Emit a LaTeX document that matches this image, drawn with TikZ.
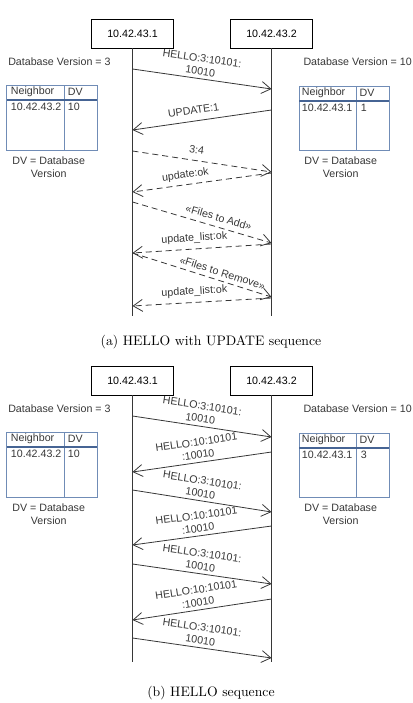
\documentclass[tikz,border=0pt]{standalone}
\usepackage{fontspec}
\newfontfamily\uifont{Liberation Sans}
\usetikzlibrary{positioning,arrows.meta}
\definecolor{ink}{RGB}{55,55,55}
\definecolor{tblline}{RGB}{112,140,182}
\definecolor{tblhead}{RGB}{70,100,148}

\begin{document}
\begin{tikzpicture}[
  x=0.75pt, y=-0.75pt,
  font=\uifont\fontsize{8}{9.6}\selectfont, text=ink,
  host/.style={draw=black, line width=0.6pt, minimum width=61.5pt, minimum height=21.75pt, inner sep=0pt, text=black},
  life/.style={draw=ink, line width=0.6pt},
  msg/.style={draw=ink, line width=0.6pt, -{Straight Barb[length=7pt,width=9pt]}},
  reply/.style={msg, dash pattern=on 4.5pt off 3pt},
  lbl/.style={sloped, above=#1, align=center, inner sep=1pt},
  lbl/.default=1.5pt,
  txt/.style={inner sep=0pt, anchor=west},
  tbl/.style={draw=tblline, line width=0.6pt},
  tblrule/.style={draw=tblhead, line width=1.4pt},
  caption/.style={font=\rmfamily\fontsize{10.3}{12}\selectfont, text=black}
]
\useasboundingbox (0,0) rectangle (412,703);

% ---- upper sequence: HELLO followed by UPDATE
\node[host] (h1a) at (132.5,33.5) {10.42.43.1};
\node[host] (h2a) at (271.5,33.5) {10.42.43.2};
\draw[life] (h1a.south) -- (h1a |- 0,316);
\draw[life] (h2a.south) -- (h2a |- 0,316);

\node[txt] (dbv1a) at (8,62) {Database Version = 3};
\node[txt, anchor=east] (dbv2a) at (412,62) {Database Version = 10};

\draw[tbl] (6.7,85) rectangle (97.3,150) (64.3,85) -- (64.3,150);
\draw[tblrule] (6.7,100) -- (97.3,100);
\node[txt] (nb1a) at (10.7,92) {Neighbor};
\node[txt] (dv1a) at (67.7,92) {DV};
\node[txt] (ip1a) at (10.7,107) {10.42.43.2};
\node[txt] (v1a) at (67.7,107) {10};
\draw[tbl] (299,86) rectangle (389.3,150.7) (356.7,86) -- (356.7,150.7);
\draw[tblrule] (299,101) -- (389.3,101);
\node[txt] (nb2a) at (301.7,92.5) {Neighbor};
\node[txt] (dv2a) at (359.3,92.5) {DV};
\node[txt] (ip2a) at (301.7,108) {10.42.43.1};
\node[txt] (v2a) at (360.7,108) {1};

\node[align=center, inner sep=0pt] (key1a) at (48.7,167.5) {DV = Database\\Version};
\node[align=center, inner sep=0pt] (key2a) at (340.7,167.5) {DV = Database\\Version};

\draw[msg] (h1a |- 0,69) -- (h2a |- 0,89) node[lbl, pos=.48] {HELLO:3:10101:\\10010};
\draw[msg] (h2a |- 0,110) -- (h1a |- 0,130) node[lbl=4pt, pos=.55] {UPDATE:1};
\draw[reply] (h1a |- 0,151) -- (h2a |- 0,172) node[lbl=4pt, pos=.45] {3:4};
\draw[reply] (h2a |- 0,173) -- (h1a |- 0,192) node[lbl=2pt, pos=.61] {update:ok};
\draw[reply] (h1a |- 0,202) -- (h2a |- 0,243) node[lbl=3pt, pos=.6] {«Files to Add»};
\draw[reply] (h2a |- 0,244) -- (h1a |- 0,253) node[lbl=3pt, pos=.55] {update\_list:ok};
\draw[reply] (h1a |- 0,253) -- (h2a |- 0,297) node[lbl=2pt, pos=.63] {«Files to Remove»};
\draw[reply] (h2a |- 0,298) -- (h1a |- 0,306) node[lbl=3pt, pos=.55] {update\_list:ok};

\node[caption] (capa) at (211,342) {(a) HELLO with UPDATE sequence};

% ---- lower sequence: HELLO only
\node[host] (h1b) at (132.5,380.5) {10.42.43.1};
\node[host] (h2b) at (271.5,380.5) {10.42.43.2};
\draw[life] (h1b.south) -- (h1b |- 0,662);
\draw[life] (h2b.south) -- (h2b |- 0,662);

\node[txt] (dbv1b) at (8,409) {Database Version = 3};
\node[txt, anchor=east] (dbv2b) at (412,409) {Database Version = 10};

\draw[tbl] (6.7,432) rectangle (97.3,497) (64.3,432) -- (64.3,497);
\draw[tblrule] (6.7,447) -- (97.3,447);
\node[txt] (nb1b) at (10.7,439) {Neighbor};
\node[txt] (dv1b) at (67.7,439) {DV};
\node[txt] (ip1b) at (10.7,454) {10.42.43.2};
\node[txt] (v1b) at (67.7,454) {10};
\draw[tbl] (299,433) rectangle (389.3,497.7) (356.7,433) -- (356.7,497.7);
\draw[tblrule] (299,448) -- (389.3,448);
\node[txt] (nb2b) at (301.7,439.5) {Neighbor};
\node[txt] (dv2b) at (359.3,439.5) {DV};
\node[txt] (ip2b) at (301.7,455) {10.42.43.1};
\node[txt] (v2b) at (360.7,455) {3};

\node[align=center, inner sep=0pt] (key1b) at (48.7,514.5) {DV = Database\\Version};
\node[align=center, inner sep=0pt] (key2b) at (340.7,514.5) {DV = Database\\Version};

\draw[msg] (h1b |- 0,416) -- (h2b |- 0,437) node[lbl, pos=.48] {HELLO:3:10101:\\10010};
\draw[msg] (h2b |- 0,452) -- (h1b |- 0,472) node[lbl, pos=.52] {HELLO:10:10101\\:10010};
\draw[msg] (h1b |- 0,490) -- (h2b |- 0,512) node[lbl, pos=.48] {HELLO:3:10101:\\10010};
\draw[msg] (h2b |- 0,526) -- (h1b |- 0,545) node[lbl, pos=.52] {HELLO:10:10101\\:10010};
\draw[msg] (h1b |- 0,564) -- (h2b |- 0,584) node[lbl, pos=.48] {HELLO:3:10101:\\10010};
\draw[msg] (h2b |- 0,599) -- (h1b |- 0,620) node[lbl, pos=.52] {HELLO:10:10101\\:10010};
\draw[msg] (h1b |- 0,638) -- (h2b |- 0,658) node[lbl, pos=.48] {HELLO:3:10101:\\10010};

\node[caption] (capb) at (211,693) {(b) HELLO sequence};
\end{tikzpicture}
\end{document}
